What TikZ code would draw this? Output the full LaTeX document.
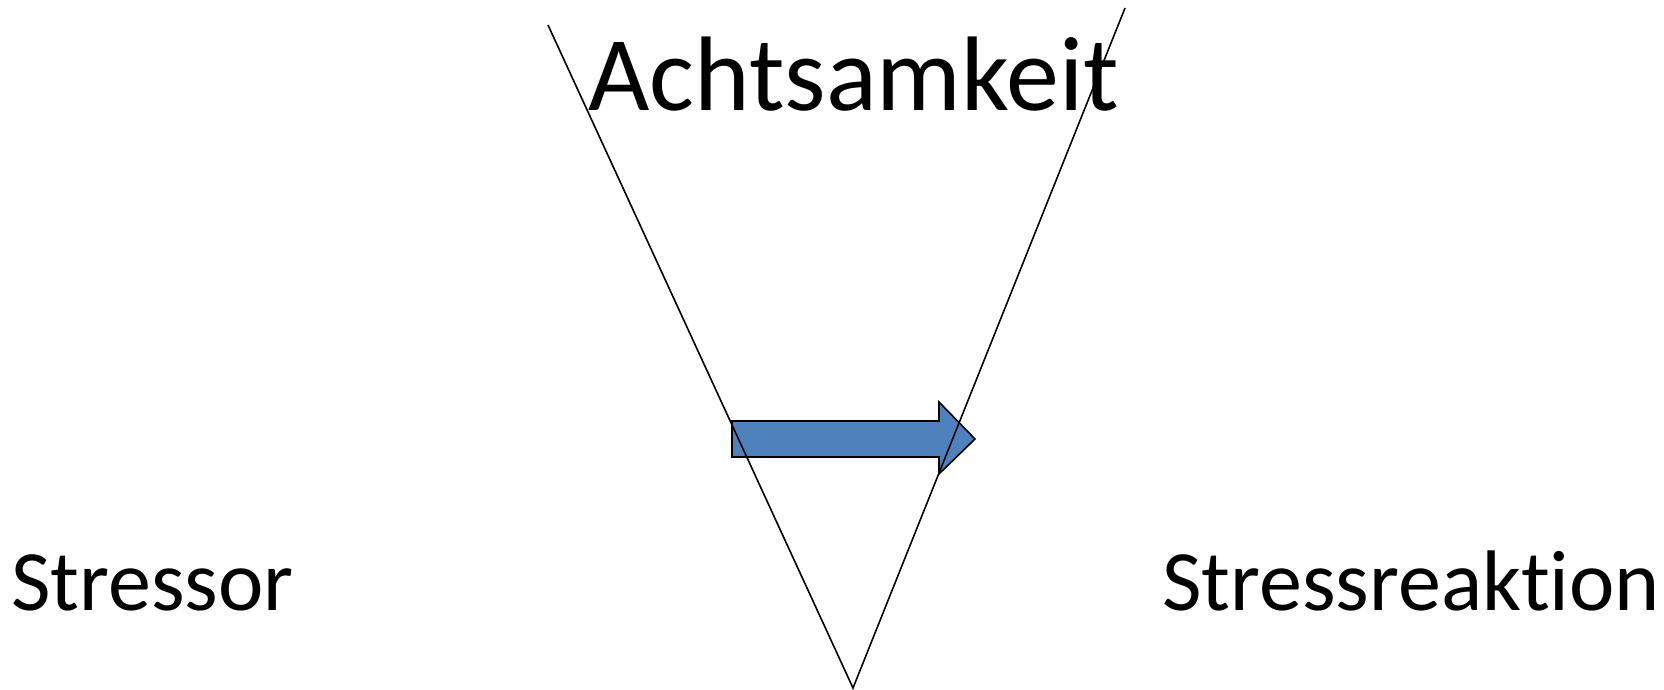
\documentclass[tikz,border=0pt]{standalone}
\usepackage{fontspec}
\setmainfont{Carlito}[RawFeature=-liga]
\definecolor{arrowblue}{HTML}{4F81BD}
\tikzset{
  vline/.style={draw=black, line width=1.6pt},
  bluearrow/.style={draw=black, line width=1.6pt, fill=arrowblue, line join=miter},
  label/.style={inner sep=0pt, anchor=base west, text=black}
}
\begin{document}
\begin{tikzpicture}[x=1pt, y=-1pt]
\useasboundingbox (0,0) rectangle (1664,690);
% arrow
\coordinate (a1) at (732,421);
\coordinate (a2) at (939,421);
\coordinate (a3) at (939,402);
\coordinate (a4) at (975,439);
\coordinate (a5) at (939,474);
\coordinate (a6) at (939,457);
\coordinate (a7) at (732,457);
\draw[bluearrow] (a1) -- (a2) -- (a3) -- (a4) -- (a5) -- (a6) -- (a7) -- cycle;
% V shape
\coordinate (ltop) at (548,25);
\coordinate (rtop) at (1125,8);
\coordinate (vtx) at (853,688);
\draw[vline] (ltop) -- (vtx) -- (rtop);
% texts
\node[label, font=\fontsize{106}{120}\selectfont] (acht) at (588,111) {Achtsamkeit};
\node[label, font=\fontsize{86}{100}\selectfont] (stressor) at (11,610) {Stressor};
\node[label, font=\fontsize{86}{100}\selectfont] (reakt) at (1162,610) {Stressreaktion};
\end{tikzpicture}
\end{document}
